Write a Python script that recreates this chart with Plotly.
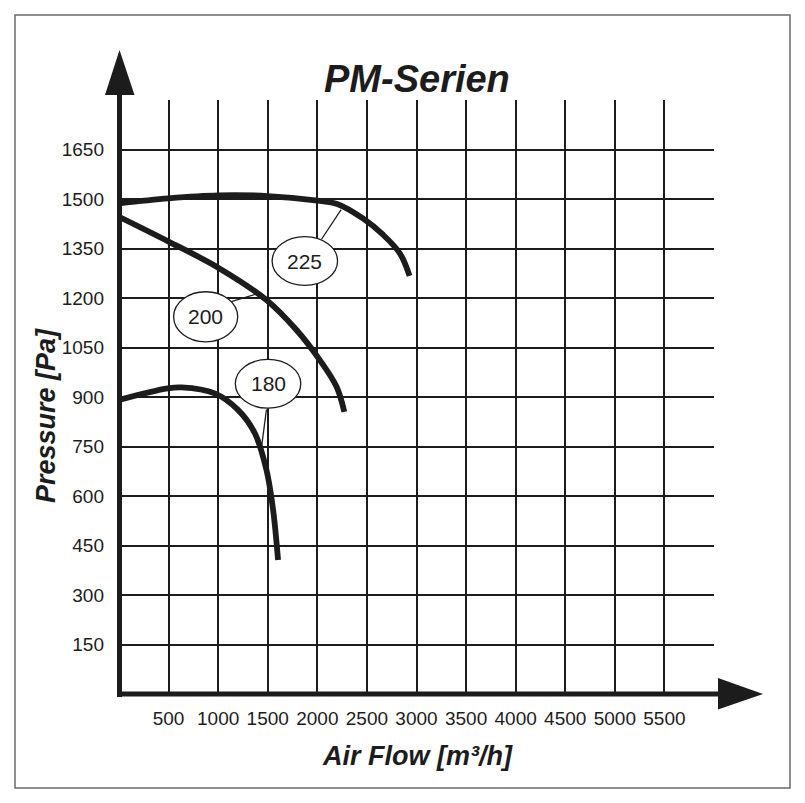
import plotly.graph_objects as go

# ---------------- data ----------------
flow_225 = [0, 500, 1000, 1500, 2000, 2200, 2460, 2665, 2833, 2930]
pres_225 = [1487, 1502, 1511, 1509, 1495, 1485, 1441, 1391, 1335, 1267]

flow_200 = [0, 500, 1000, 1487, 1790, 2025, 2194, 2272]
pres_200 = [1446, 1371, 1292, 1194, 1103, 1012, 931, 855]

flow_180 = [0, 490, 630, 965, 1200, 1370, 1487, 1554, 1604]
pres_180 = [891, 926, 929, 911, 861, 790, 679, 558, 406]

curve_names = ["225", "200", "180"]

x_tick_labels = ["500", "1000", "1500", "2000", "2500", "3000", "3500",
                 "4000", "4500", "5000", "5500"]
y_tick_labels = ["150", "300", "450", "600", "750", "900", "1050", "1200",
                 "1350", "1500", "1650"]

X_MAX = 6000
Y_MAX = 1800

# ---------------- layout geometry ----------------
W, H = 805, 803
L, R, T, B = 119, 91, 100, 109
PW = W - L - R
PH = H - T - B


def px(x):
    return (x - L) / PW


def py(y):
    return (H - B - y) / PH


FONT = "Liberation Sans, Arial, sans-serif"
INK = "#1c1c1c"

fig = go.Figure()
for fx, fy, nm in [(flow_225, pres_225, curve_names[0]),
                   (flow_200, pres_200, curve_names[1]),
                   (flow_180, pres_180, curve_names[2])]:
    fig.add_trace(go.Scatter(
        x=fx, y=fy, mode="lines", name=nm,
        line=dict(color=INK, width=5.8, shape="spline", smoothing=1.0),
        showlegend=False, hoverinfo="skip"))

x_vals = [0] + [float(t) for t in x_tick_labels] + [X_MAX]
y_vals = [0] + [float(t) for t in y_tick_labels] + [Y_MAX]

shapes = []
# frame
shapes.append(dict(type="rect", xref="paper", yref="paper",
                   x0=px(15), x1=px(790), y0=py(15), y1=py(788),
                   line=dict(color="#6a6a6a", width=1.5), layer="below"))
# axis bars
shapes.append(dict(type="rect", xref="paper", yref="paper",
                   x0=px(117), x1=px(122), y0=py(95), y1=py(697),
                   fillcolor=INK, line=dict(width=0), layer="above"))
shapes.append(dict(type="rect", xref="paper", yref="paper",
                   x0=px(117), x1=px(719), y0=py(691.5), y1=py(696.5),
                   fillcolor=INK, line=dict(width=0), layer="above"))
# arrow heads
shapes.append(dict(type="path", xref="paper", yref="paper",
                   path=f"M {px(119.5)} {py(50)} L {px(105)} {py(95)} L {px(134.5)} {py(95)} Z",
                   fillcolor=INK, line=dict(width=0)))
shapes.append(dict(type="path", xref="paper", yref="paper",
                   path=f"M {px(763)} {py(694)} L {px(718)} {py(678)} L {px(718)} {py(709.5)} Z",
                   fillcolor=INK, line=dict(width=0)))

# label bubbles (centre flow, centre pressure, half width, half height)
bubbles = [(1874, 1312, 330, 74), (874, 1143, 323, 76), (1503, 940, 330, 74)]
leaders = [((2042, 1378), (2240, 1468)),
           ((1133, 1189), (1386, 1212)),
           ((1487, 862), (1436, 745))]
annotations = []
for (cx, cy, hw, hh), (p0, p1), nm in zip(bubbles, leaders, curve_names):
    shapes.append(dict(type="line", xref="x", yref="y",
                       x0=p0[0], y0=p0[1], x1=p1[0], y1=p1[1],
                       line=dict(color=INK, width=1.3)))
    shapes.append(dict(type="circle", xref="x", yref="y",
                       x0=cx - hw, x1=cx + hw, y0=cy - hh, y1=cy + hh,
                       fillcolor="white", line=dict(color=INK, width=1.3)))
    annotations.append(dict(x=cx, y=cy, xref="x", yref="y", text=nm,
                            showarrow=False,
                            font=dict(family=FONT, size=21, color=INK)))

annotations.append(dict(x=px(417), y=py(79), xref="paper", yref="paper",
                        text="<b><i>PM-Serien</i></b>", showarrow=False,
                        xanchor="center", yanchor="middle",
                        font=dict(family=FONT, size=38, color=INK)))
annotations.append(dict(x=px(417), y=py(756), xref="paper", yref="paper",
                        text="<b><i>Air Flow [m³/h]</i></b>", showarrow=False,
                        xanchor="center", yanchor="middle",
                        font=dict(family=FONT, size=27, color=INK)))
annotations.append(dict(x=px(46), y=py(416), xref="paper", yref="paper",
                        text="<b><i>Pressure [Pa]</i></b>", showarrow=False,
                        textangle=-90, xanchor="center", yanchor="middle",
                        font=dict(family=FONT, size=27, color=INK)))

fig.update_layout(
    width=W, height=H,
    margin=dict(l=L, r=R, t=T, b=B, autoexpand=False),
    paper_bgcolor="white", plot_bgcolor="white",
    shapes=shapes, annotations=annotations,
    font=dict(family=FONT, color=INK),
    xaxis=dict(range=[0, X_MAX], tickvals=x_vals,
               ticktext=[""] + x_tick_labels + [""],
               showgrid=True, gridcolor=INK, gridwidth=2,
               zeroline=False, showline=False, ticks="",
               tickfont=dict(size=19, color=INK), ticklabelstandoff=11,
               fixedrange=True),
    yaxis=dict(range=[0, Y_MAX], tickvals=y_vals,
               ticktext=[""] + y_tick_labels + [""],
               showgrid=True, gridcolor=INK, gridwidth=2,
               zeroline=False, showline=False, ticks="",
               tickfont=dict(size=19, color=INK), ticklabelstandoff=14,
               fixedrange=True),
)

fig.write_html("out.html", config={"displayModeBar": False},
               post_script="document.body.style.margin='0';"
                           "document.body.style.overflow='hidden';")
